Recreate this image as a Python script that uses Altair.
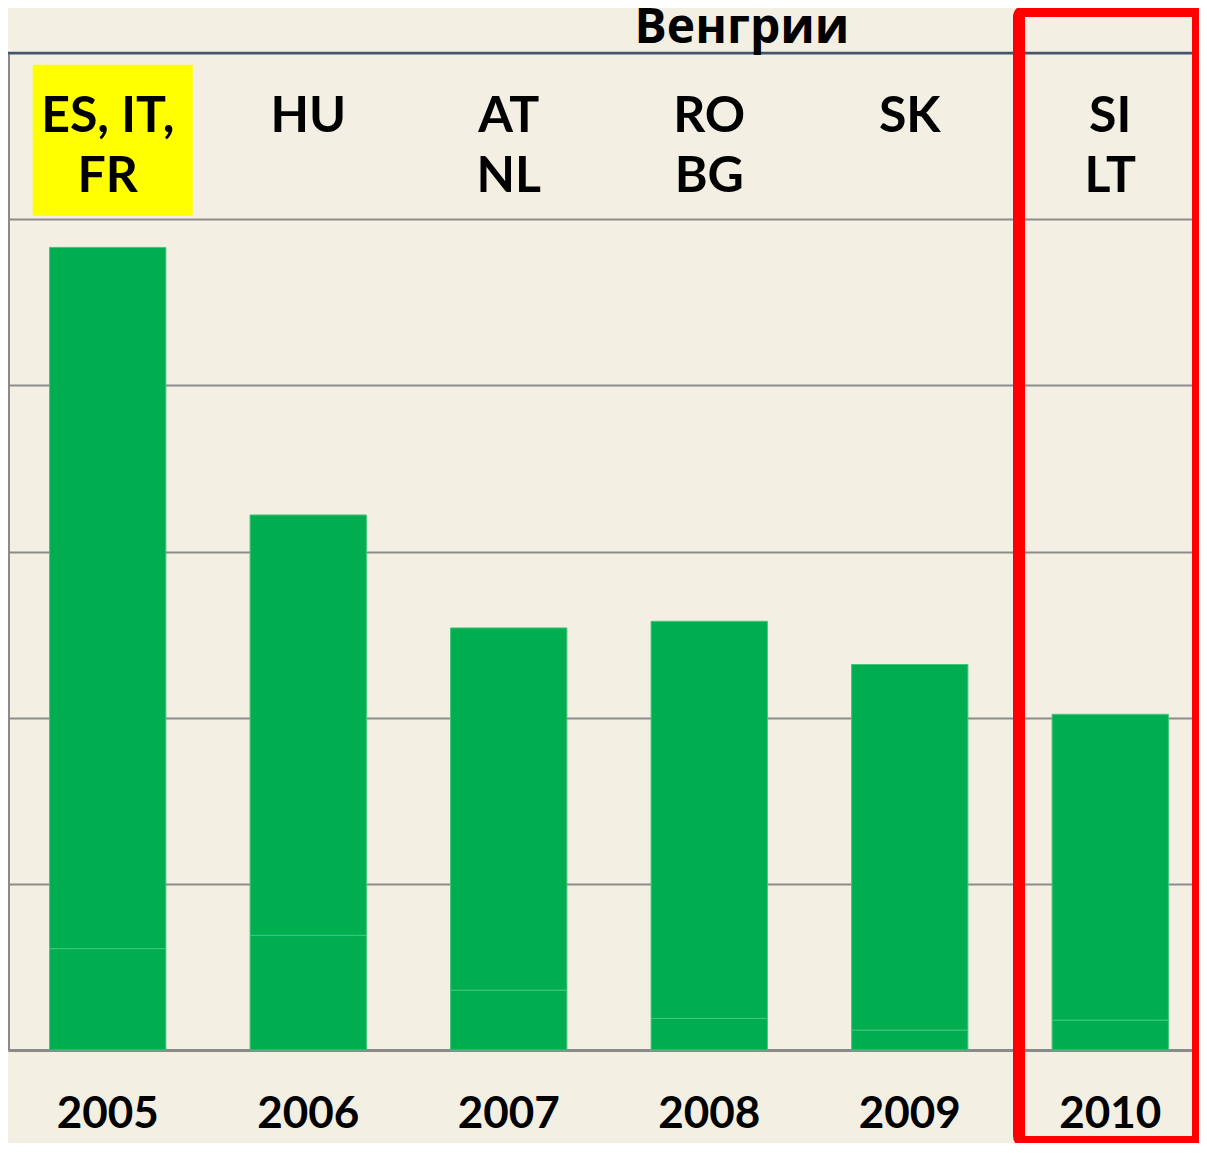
import altair as alt
import pandas as pd

# ---- data (arbitrary units, one gridline step = 1) ----
years = ["2005", "2006", "2007", "2008", "2009", "2010"]
totals = [4.83, 3.22, 2.54, 2.58, 2.32, 2.02]
lower = [0.61, 0.69, 0.36, 0.19, 0.12, 0.18]
top_line = ["ES, IT,", "HU", "AT", "RO", "SK", "SI"]
bottom_line = ["FR", "", "NL", "BG", "", "LT"]
title_text = "Венгрии"
highlight_year = "2005"
highlight_range = [5.02, 5.93]
grid_values = [0, 1, 2, 3, 4, 5, 6]

rows = []
for yr, t, lo in zip(years, totals, lower):
    rows.append({"year": yr, "part": "lower", "ord": 1, "value": lo})
    rows.append({"year": yr, "part": "upper", "ord": 2, "value": round(t - lo, 3)})
bars_df = pd.DataFrame(rows)
labels_df = pd.DataFrame({"year": years, "top": top_line, "bottom": bottom_line})
hl_df = pd.DataFrame({"year": [highlight_year], "y": [highlight_range[1]], "y2": [highlight_range[0]]})
title_df = pd.DataFrame({"t": [title_text]})
box_df = pd.DataFrame({"a": [0]})

FONT = "Lato"
W, H = 1191, 997
xscale = alt.Scale(domain=years, paddingInner=0.42, paddingOuter=0.18, align=0.576)
yscale = alt.Scale(domain=[0, 6], nice=False, zero=True)

x_axis = alt.Axis(title=None, labelAngle=0, labelFont=FONT, labelFontWeight="bold",
                  labelFontSize=44, labelColor="#000000", labelPadding=64,
                  labelBaseline="middle", ticks=False, domainColor="#8a8a8a",
                  domainWidth=3, grid=False)
y_axis = alt.Axis(title=None, labels=False, ticks=False, values=grid_values,
                  grid=True, gridColor="#8c8c8c", gridWidth=2,
                  domainColor="#8a8a8a", domainWidth=3)

def xenc():
    return alt.X("year:N", scale=xscale, sort=years, axis=x_axis)

highlight = alt.Chart(hl_df).mark_bar(width=160, xOffset=5, color="#FFFF00").encode(
    x=xenc(),
    y=alt.Y("y:Q", scale=yscale, axis=y_axis),
    y2="y2:Q",
)

bars = alt.Chart(bars_df).mark_bar(color="#00AE50", stroke="#45C47C", strokeWidth=1).encode(
    x=xenc(),
    y=alt.Y("value:Q", stack="zero", scale=yscale, axis=y_axis),
    order=alt.Order("ord:Q"),
)

top_rule = alt.Chart(box_df).mark_rule(color="#44546A", strokeWidth=2.5).encode(
    y=alt.Y("v:Q", scale=yscale, axis=y_axis)
).transform_calculate(v="6")

label_top = alt.Chart(labels_df).mark_text(
    font=FONT, fontWeight="bold", fontSize=50, color="#000000", baseline="middle"
).encode(x=xenc(), y=alt.value(64), text="top:N")

label_bottom = alt.Chart(labels_df).mark_text(
    font=FONT, fontWeight="bold", fontSize=50, color="#000000", baseline="middle"
).encode(x=xenc(), y=alt.value(124), text="bottom:N")

title = alt.Chart(title_df).mark_text(
    font="Open Sans", fontWeight="bold", fontSize=48, color="#000000", baseline="alphabetic"
).encode(x=alt.value(734), y=alt.value(-10), text="t:N")

red_box = alt.Chart(box_df).mark_rect(
    fillOpacity=0, stroke="#FF0000", strokeWidth=12, cornerRadius=6
).encode(x=alt.value(1011), x2=alt.value(1190), y=alt.value(-42), y2=alt.value(1089))

chart = alt.layer(highlight, bars, top_rule, label_top, label_bottom, title, red_box).properties(
    width=W, height=H,
    autosize=alt.AutoSizeParams(type="none"),
    padding={"left": 0, "right": 0, "top": 45, "bottom": 93},
    background="#F4EFE3",
).configure_view(stroke=None)

chart.save("out.html", embed_options={"renderer": "svg", "actions": False})
